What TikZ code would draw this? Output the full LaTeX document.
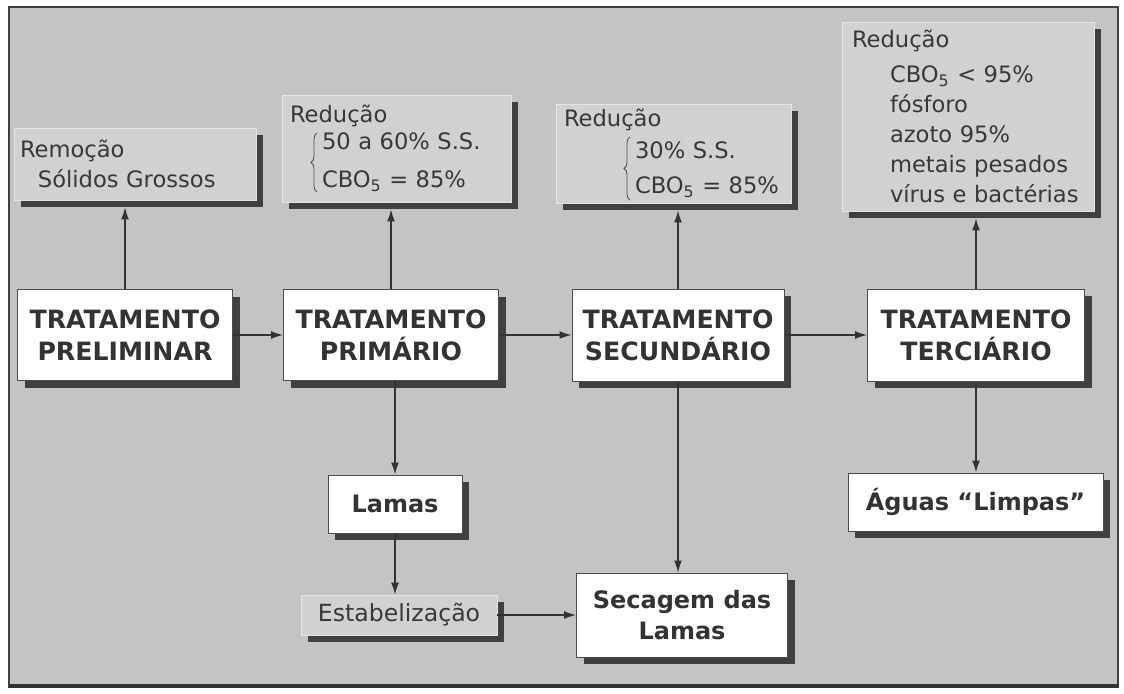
\documentclass[tikz,border=0pt]{standalone}
\usepackage{fontspec}
\setmainfont{DejaVu Sans}
\usetikzlibrary{arrows.meta,shadows,decorations.pathreplacing}

\begin{document}
\begin{tikzpicture}[x=0.5pt,y=-0.5pt,
    ombre/.style={drop shadow={shadow xshift=3.5pt,shadow yshift=-3.5pt,
        fill=black!75,opacity=1}},
    etape/.style={draw=black!70,line width=0.5pt,fill=white,ombre,
        text=black!80,align=center,inner sep=0pt,
        font=\fontsize{12.6}{16}\selectfont\bfseries},
    sortie/.style={etape,font=\fontsize{12}{15.5}\selectfont\bfseries},
    bilan/.style={draw=black!10,line width=0.4pt,fill=black!18,ombre,
        text=black!78,align=left,inner xsep=3pt,inner ysep=0pt,
        font=\fontsize{11.3}{15}\selectfont},
    fleche/.style={draw=black!80,line width=0.7pt,-{Latex[length=6pt,width=4pt]}},
    accolade/.style={draw=black!70,line width=0.4pt,decorate,
        decoration={brace,amplitude=3pt}}]
% cadre
\fill[white] (0,0) rectangle (1124,693);
\fill[black!23] (9,7) rectangle (1118,687);
\draw[black!75,line width=0.7pt] (9,7) rectangle (1118,687);
\draw[black!80,line width=2pt] (9,686) -- (1118,686);

% etapes du tratamento
\node[etape,minimum width=107.5pt,minimum height=45.5pt] (prel) at (125,335) {TRATAMENTO\\PRELIMINAR};
\node[etape,minimum width=107.5pt,minimum height=45.5pt] (prim) at (391,335) {TRATAMENTO\\PRIMÁRIO};
\node[etape,minimum width=106pt,minimum height=46pt] (sec) at (678,335) {TRATAMENTO\\SECUNDÁRIO};
\node[etape,minimum width=108.5pt,minimum height=46pt] (terc) at (976,335) {TRATAMENTO\\TERCIÁRIO};

% lamas et aguas
\node[sortie,minimum width=67pt,minimum height=29pt] (lamas) at (395,504) {Lamas};
\node[bilan,align=center,minimum width=98pt,minimum height=20pt,
    font=\fontsize{11.8}{15}\selectfont] (estab) at (399,615) {Estabelização};
\node[sortie,minimum width=105.5pt,minimum height=42pt] (secag) at (682,615) {Secagem das\\Lamas};
\node[sortie,minimum width=127.5pt,minimum height=29pt] (aguas) at (975.5,502) {Águas “Limpas”};

% reducoes
\node[bilan,text width=115pt,minimum height=36pt] (remo) at (135,164)
    {Remoção\\\hspace*{9pt}Sólidos Grossos};
\node[bilan,text width=108.5pt,minimum height=53.5pt] (red1) at (396.5,148.5)
    {\hspace*{1pt}Redução\\[-1.5pt]\hspace*{17pt}50 a 60\% S.S.\\[4pt]\hspace*{17pt}CBO\textsubscript{5} = 85\%};
\node[bilan,text width=111.5pt,minimum height=49.5pt] (red2) at (673.5,153.5)
    {\hspace*{1pt}Redução\\[1pt]\hspace*{36.5pt}30\% S.S.\\[2.5pt]\hspace*{36.5pt}CBO\textsubscript{5} = 85\%};
\node[bilan,text width=120pt,minimum height=94.5pt] (red3) at (968,116.5)
    {\hspace*{2pt}Redução\\[2.5pt]\hspace*{21pt}CBO\textsubscript{5} < 95\%\\
     \hspace*{21pt}fósforo\\\hspace*{21pt}azoto 95\%\\
     \hspace*{21pt}metais pesados\\\hspace*{21pt}vírus e bactérias};
\draw[accolade] (317,192) -- (317,133);
\draw[accolade] (630,200) -- (630,137);

% fleches
\draw[fleche] (prel.east) -- (prim.west);
\draw[fleche] (prim.east) -- (sec.west);
\draw[fleche] (sec.east) -- (terc.west);
\draw[fleche] (prel.north) -- ([yshift=-3.5pt]prel.north |- remo.south);
\draw[fleche] (prim.north) -- ([yshift=-3.5pt]prim.north |- red1.south);
\draw[fleche] (sec.north) -- ([yshift=-3.5pt]sec.north |- red2.south);
\draw[fleche] (terc.north) -- ([yshift=-3.5pt]terc.north |- red3.south);
\draw[fleche] (lamas.north |- prim.south) -- (lamas.north);
\draw[fleche] (lamas.south) -- (lamas.south |- estab.north);
\draw[fleche] (estab.east) -- (secag.west);
\draw[fleche] (sec.south) -- (sec.south |- secag.north);
\draw[fleche] (terc.south) -- (terc.south |- aguas.north);
\end{tikzpicture}
\end{document}
